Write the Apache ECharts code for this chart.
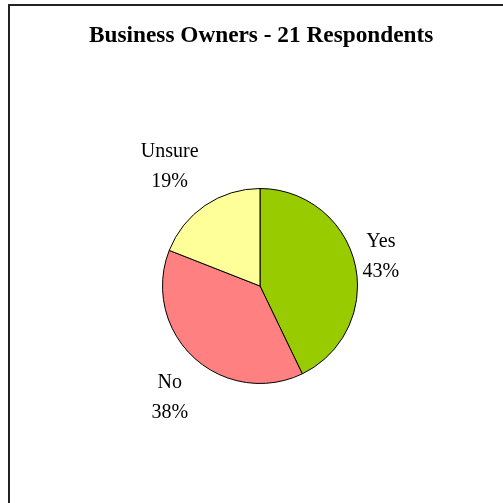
<!DOCTYPE html>
<html>
<head>
<meta charset="utf-8">
<script src="https://cdn.jsdelivr.net/npm/echarts@6/dist/echarts.min.js"></script>
<style>
html,body{margin:0;padding:0;background:#fff;}
#chart{width:503px;height:503px;}
</style>
</head>
<body>
<div id="chart"></div>
<script>
// ---- data ----
const titleText = 'Business Owners - 21 Respondents';
const categories = ['Yes', 'No', 'Unsure'];
const counts = [9, 8, 4];

// ---- styles / layout ----
const sliceColors = ['#99CC00', '#FF8080', '#FFFF99'];
const pieCenter = [260, 286];
const pieRadius = 97.5;
const labelDist = [124, 143, 148];
const labelNudge = [[0, -2], [7, 7], [-7, 3]];

const total = counts.reduce((a, b) => a + b, 0);
const seriesData = categories.map((c, i) => ({
  name: c,
  value: counts[i],
  itemStyle: { color: sliceColors[i] }
}));

function midAngle(idx) {
  let acc = 0;
  for (let i = 0; i < idx; i++) acc += counts[i];
  return (acc + counts[idx] / 2) / total * 2 * Math.PI; // clockwise from top
}

const chart = echarts.init(document.getElementById('chart'), null, { renderer: 'canvas' });
chart.setOption({
  animation: false,
  backgroundColor: '#ffffff',
  title: {
    text: titleText,
    left: 89,
    top: 19,
    padding: [5, 0, 5, 0],
    textStyle: {
      fontFamily: 'Liberation Serif',
      fontWeight: 'bold',
      fontSize: 23.3,
      color: '#000'
    }
  },
  graphic: [{
    type: 'rect',
    shape: { x: 9, y: 5, width: 600, height: 600 },
    style: { fill: 'none', stroke: '#222', lineWidth: 2 },
    silent: true
  }],
  series: [{
    type: 'pie',
    center: pieCenter,
    radius: pieRadius,
    startAngle: 90,
    clockwise: true,
    avoidLabelOverlap: false,
    emphasis: { disabled: true },
    itemStyle: { borderColor: '#000', borderWidth: 1 },
    label: {
      show: true,
      position: 'outside',
      fontFamily: 'Liberation Serif',
      fontSize: 20,
      lineHeight: 30,
      color: '#000',
      formatter: p => p.name + '\n' + Math.round(p.value / total * 100) + '%'
    },
    labelLine: { show: false },
    labelLayout: function (params) {
      const i = params.dataIndex;
      const a = midAngle(i);
      const dx = Math.sin(a), dy = -Math.cos(a);
      return {
        x: pieCenter[0] + dx * labelDist[i] + labelNudge[i][0],
        y: pieCenter[1] + dy * labelDist[i] + labelNudge[i][1],
        align: 'center',
        verticalAlign: 'middle'
      };
    },
    data: seriesData
  }]
});
</script>
</body>
</html>
